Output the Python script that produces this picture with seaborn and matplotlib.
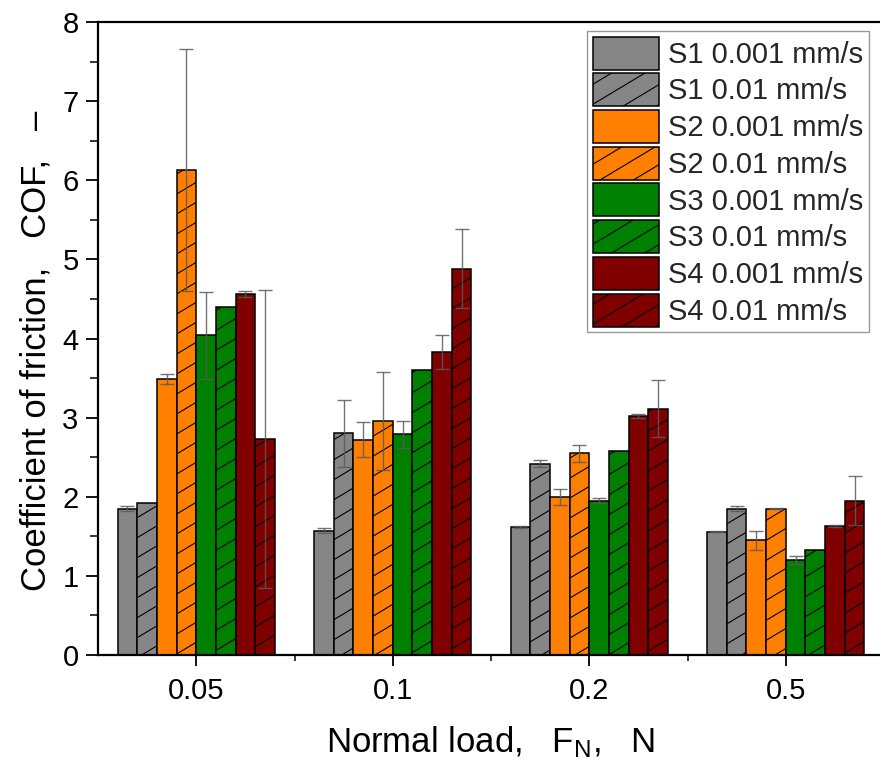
import numpy as np
import pandas as pd
import matplotlib
matplotlib.use("Agg")
import matplotlib.pyplot as plt
import matplotlib.hatch as mhatch
from matplotlib.path import Path
from matplotlib.patches import Patch
from matplotlib.ticker import FixedLocator, MultipleLocator
import seaborn as sns

# ---------------- data ----------------
loads = ["0.05", "0.1", "0.2", "0.5"]
series = ["S1 0.001 mm/s", "S1 0.01 mm/s", "S2 0.001 mm/s", "S2 0.01 mm/s",
          "S3 0.001 mm/s", "S3 0.01 mm/s", "S4 0.001 mm/s", "S4 0.01 mm/s"]
colors = ["#868686", "#868686", "#FF8000", "#FF8000",
          "#008000", "#008000", "#800000", "#800000"]

s1_slow = [1.85, 1.57, 1.62, 1.56]
s1_fast = [1.92, 2.80, 2.42, 1.85]
s2_slow = [3.49, 2.72, 2.00, 1.45]
s2_fast = [6.13, 2.96, 2.55, 1.85]
s3_slow = [4.04, 2.79, 1.95, 1.20]
s3_fast = [4.40, 3.60, 2.58, 1.33]
s4_slow = [4.56, 3.83, 3.02, 1.63]
s4_fast = [2.73, 4.88, 3.11, 1.95]

s1_slow_err = [0.03, 0.03, 0.01, 0.01]
s1_fast_err = [0.00, 0.42, 0.04, 0.03]
s2_slow_err = [0.06, 0.22, 0.10, 0.12]
s2_fast_err = [1.53, 0.62, 0.11, 0.01]
s3_slow_err = [0.55, 0.17, 0.03, 0.05]
s3_fast_err = [0.00, 0.00, 0.00, 0.00]
s4_slow_err = [0.04, 0.22, 0.03, 0.01]
s4_fast_err = [1.88, 0.50, 0.36, 0.31]

values = [s1_slow, s1_fast, s2_slow, s2_fast, s3_slow, s3_fast, s4_slow, s4_fast]
errors = [s1_slow_err, s1_fast_err, s2_slow_err, s2_fast_err,
          s3_slow_err, s3_fast_err, s4_slow_err, s4_fast_err]

rows = []
for name, vals, errs in zip(series, values, errors):
    for ld, v, e in zip(loads, vals, errs):
        rows.append({"load": ld, "series": name, "cof": v, "err": e})
df = pd.DataFrame(rows)

# ---------------- shallower "/" hatch (like Origin) ----------------
def _ne_init(self, hatch, density):
    n = hatch.count('/') + hatch.count('x') + hatch.count('X')
    self.num_lines = 11 if n else 0
    self.num_vertices = self.num_lines * 2

def _ne_set(self, vertices, codes):
    slope = 0.6
    cs = np.arange(-0.8, 1.2 + 1e-9, 0.2)[: self.num_lines]
    x0, x1 = -0.2, 1.2
    vertices[0::2, 0] = x0
    vertices[0::2, 1] = cs + slope * x0
    vertices[1::2, 0] = x1
    vertices[1::2, 1] = cs + slope * x1
    codes[0::2] = Path.MOVETO
    codes[1::2] = Path.LINETO

mhatch.NorthEastHatch.__init__ = _ne_init
mhatch.NorthEastHatch.set_vertices_and_codes = _ne_set

# ---------------- style ----------------
sns.set_theme(style="ticks")
plt.rcParams["font.family"] = ["Liberation Sans", "DejaVu Sans"]
plt.rcParams["mathtext.default"] = "regular"
plt.rcParams["hatch.linewidth"] = 0.8
plt.rcParams["hatch.color"] = "black"

fig = plt.figure(figsize=(8.8, 7.7), dpi=100)
ax = fig.add_axes([98 / 880, 1 - 655 / 770, (884 - 98) / 880, (655 - 22) / 770])

sns.barplot(data=df, x="load", y="cof", hue="series", order=loads,
            hue_order=series, palette=colors, errorbar=None, width=0.8,
            dodge=True, edgecolor="black", linewidth=1.1, saturation=1,
            legend=False, ax=ax)

bar_containers = list(ax.containers)[: len(series)]
for i, cont in enumerate(bar_containers):
    xs, ys, es = [], [], []
    for bar, v, e in zip(cont, values[i], errors[i]):
        if i % 2 == 1:
            bar.set_hatch("/")
        if e > 0:
            xs.append(bar.get_x() + bar.get_width() / 2)
            ys.append(v)
            es.append(e)
    if xs:
        ax.errorbar(xs, ys, yerr=es, fmt="none", ecolor="#5a5a5a",
                    elinewidth=1.0, capsize=5, capthick=1.0, alpha=0.85,
                    zorder=5)

ax.set_xlim(-0.5, 3.5)
ax.set_ylim(0, 8)
ax.yaxis.set_major_locator(MultipleLocator(1))
ax.yaxis.set_minor_locator(MultipleLocator(0.5))
ax.xaxis.set_minor_locator(FixedLocator([0.5, 1.5, 2.5]))

ax.tick_params(axis="both", which="major", direction="out", labelsize=21,
               width=1.3, color="black", labelcolor="black")
ax.tick_params(axis="x", which="major", length=8, pad=8)
ax.tick_params(axis="y", which="major", length=9, pad=5)
ax.tick_params(axis="x", which="minor", direction="out", length=4, width=1.3)
ax.tick_params(axis="y", which="minor", direction="out", length=6, width=1.3)

for sp in ["left", "bottom", "top"]:
    ax.spines[sp].set_linewidth(1.6)
    ax.spines[sp].set_color("black")
ax.spines["right"].set_visible(False)

ax.set_xlabel("Normal load,   F$_\\mathregular{N}$,   N", fontsize=25,
              labelpad=14, color="black")
ax.set_ylabel("Coefficient of friction,   COF,   \u2013", fontsize=25,
              labelpad=7, color="black")
ax.yaxis.label.set_y(0.48)

handles = [Patch(facecolor=c, edgecolor="black", linewidth=1.1,
                 hatch=("/" if i % 2 == 1 else None))
           for i, c in enumerate(colors)]
leg = ax.legend(handles, series, loc="upper right", fontsize=21,
                frameon=True, fancybox=False, framealpha=1,
                edgecolor="#999999", handlelength=2.26, handleheight=1.36,
                handletextpad=0.3, labelspacing=0.13, borderpad=0.2,
                borderaxespad=0.3, bbox_to_anchor=(0.992, 1.0))
leg.get_frame().set_linewidth(1.0)

fig.savefig("out.png", dpi=100)
